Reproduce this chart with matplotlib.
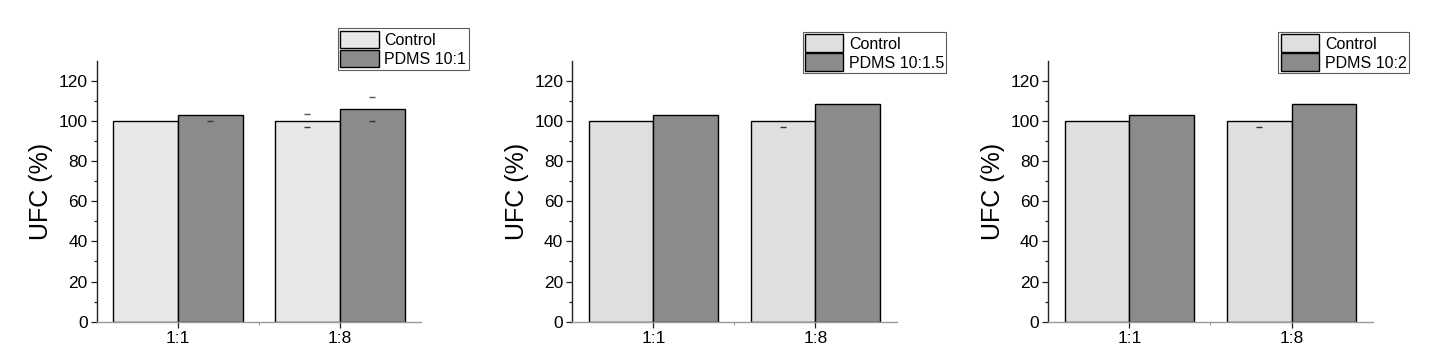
import matplotlib
matplotlib.use("Agg")
import matplotlib.pyplot as plt
from matplotlib.ticker import FixedLocator
import numpy as np

plt.rcParams['font.family'] = ['Liberation Sans', 'DejaVu Sans']

categories = ["1:1", "1:8"]

control_vals = [[100, 100], [100, 100], [100, 100]]
pdms_vals = [[103, 106.2], [103, 108.5], [103, 108.5]]
pdms_labels = ["PDMS 10:1", "PDMS 10:1.5", "PDMS 10:2"]

# error bars: (lower, upper) per category
control_err_lo = [[0, 3.1], [0, 3.1], [0, 3.1]]
control_err_hi = [[0, 3.5], [0, 0], [0, 0]]
pdms_err_lo = [[3.0, 6.0], [0, 0], [0, 0]]
pdms_err_hi = [[0, 5.8], [0, 0], [0, 0]]

control_colors = ["#e8e8e8", "#dfdfdf", "#dfdfdf"]
pdms_color = "#8b8c89"

fig = plt.figure(figsize=(14.43, 3.55), dpi=100)

lefts = [0.0670, 0.3966, 0.7265]
width = 0.2247
bottom = 0.0938
height = 0.735
leg_anchor = [(1.147, 1.124), (1.154, 1.11), (1.112, 1.11)]

x = np.arange(1, len(categories) + 1)
bw = 0.4

for i in range(3):
    ax = fig.add_axes([lefts[i], bottom, width, height])
    ax.bar(x - bw / 2, control_vals[i], bw, color=control_colors[i],
           edgecolor="black", linewidth=1.0, label="Control", zorder=2)
    ax.bar(x + bw / 2, pdms_vals[i], bw, color=pdms_color,
           edgecolor="black", linewidth=1.0, label=pdms_labels[i], zorder=2)
    for xs, vals, lo, hi in [(x - bw / 2, control_vals[i], control_err_lo[i], control_err_hi[i]),
                             (x + bw / 2, pdms_vals[i], pdms_err_lo[i], pdms_err_hi[i])]:
        for xx, v, l, h in zip(xs, vals, lo, hi):
            if l > 0:
                ax.plot([xx], [v - l], marker="_", markersize=5, mew=1.0,
                        color="#333333", zorder=3)
            if h > 0:
                ax.plot([xx], [v + h], marker="_", markersize=5, mew=1.0,
                        color="#555555", zorder=3)
    ax.set_xlim(0.5, 2.5)
    ax.set_ylim(0, 130)
    ax.set_xticks(x)
    ax.set_xticklabels(categories, fontsize=12.5)
    ax.xaxis.set_minor_locator(FixedLocator([1.5]))
    ax.yaxis.set_major_locator(FixedLocator([0, 20, 40, 60, 80, 100, 120]))
    ax.yaxis.set_minor_locator(FixedLocator([10, 30, 50, 70, 90, 110]))
    ax.tick_params(axis="y", which="major", length=4.5, width=0.9, labelsize=12.5, pad=2, color="#222222")
    ax.tick_params(axis="y", which="minor", length=2.5, width=0.9, color="#222222")
    ax.tick_params(axis="x", which="major", length=4, width=0.9, labelsize=12.5, pad=3, color="#222222")
    ax.tick_params(axis="x", which="minor", length=2, width=0.8, color="#999999")
    ax.spines["top"].set_visible(False)
    ax.spines["right"].set_visible(False)
    ax.spines["left"].set_linewidth(1.0)
    ax.spines["left"].set_color("#222222")
    ax.spines["bottom"].set_linewidth(1.0)
    ax.spines["bottom"].set_color("#9a9a9a")
    ax.set_ylabel("UFC (%)", fontsize=18, labelpad=4)
    leg = ax.legend(loc="upper right", bbox_to_anchor=leg_anchor[i],
                    fontsize=11.5, frameon=True, fancybox=False,
                    handlelength=2.4, handleheight=1.3, handletextpad=0.35,
                    labelspacing=0.1, borderpad=0.15, borderaxespad=0)
    leg.get_frame().set_edgecolor("#333333")
    leg.get_frame().set_linewidth(0.8)

fig.savefig("out.png", dpi=100)
